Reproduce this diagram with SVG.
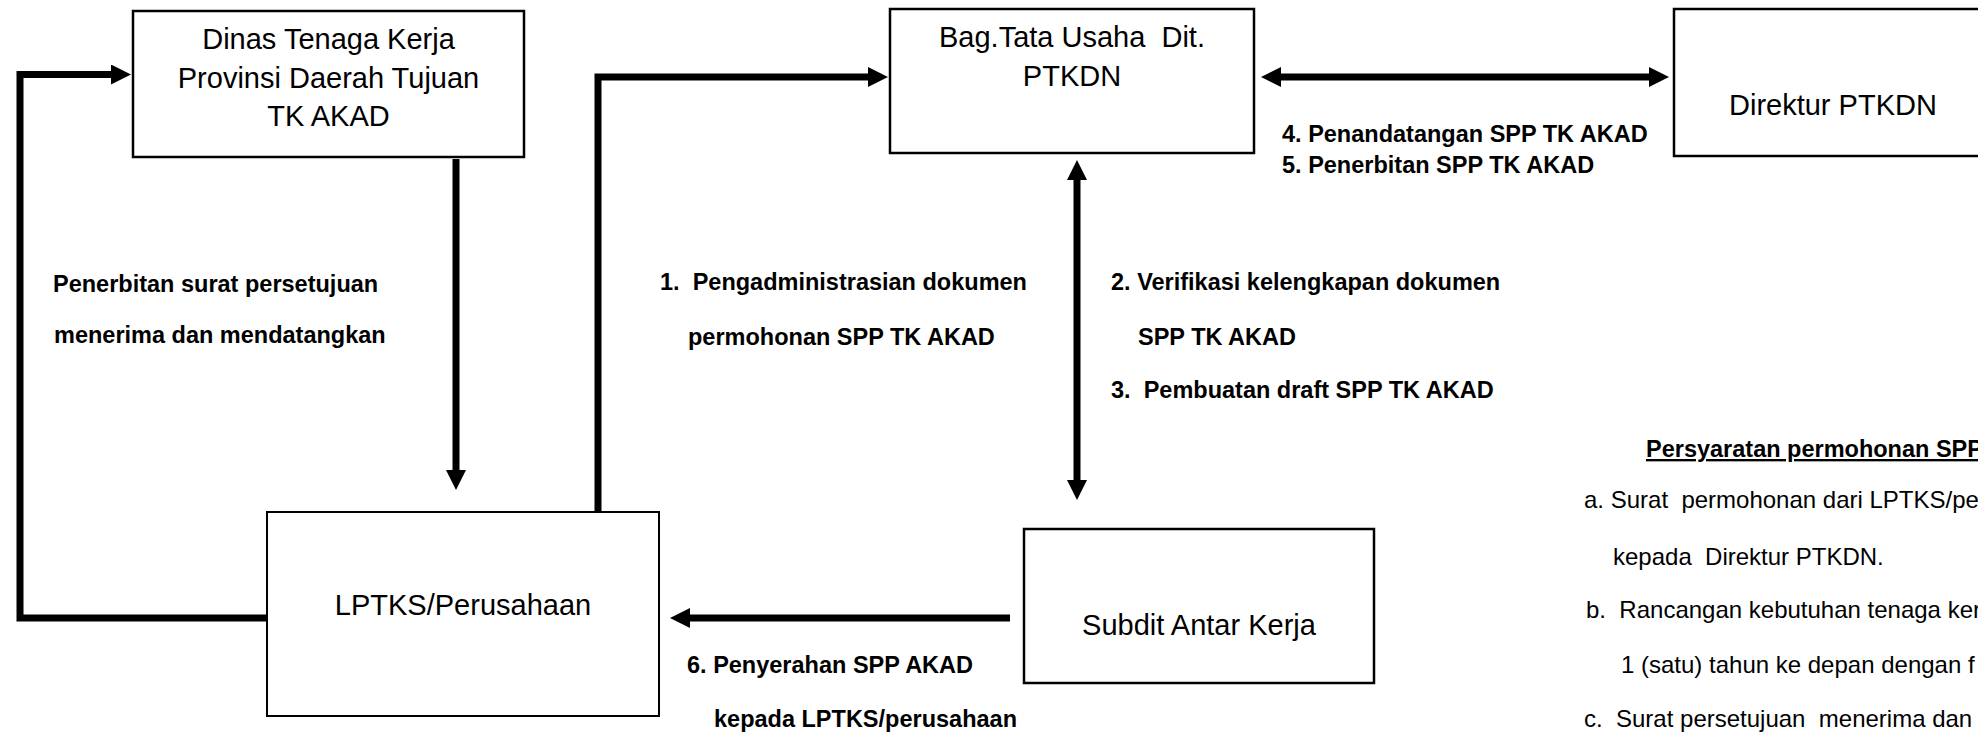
<svg xmlns="http://www.w3.org/2000/svg" width="1978" height="733" viewBox="0 0 1978 733" xml:space="preserve">
<style>
.box{fill:#fff;stroke:#000;stroke-width:2.5}
.thin{stroke-width:2}
.node{font-family:"Liberation Sans",Arial,sans-serif;font-size:29px;fill:#000;text-anchor:middle;white-space:pre}
.lbl{font-family:"Liberation Sans",Arial,sans-serif;font-size:23.5px;font-weight:bold;fill:#000;white-space:pre}
.req{font-family:"Liberation Sans",Arial,sans-serif;font-size:24px;fill:#000;white-space:pre}
.conn{fill:none;stroke:#000;stroke-width:7;stroke-linejoin:miter}
</style>
<defs>
<marker id="ah" viewBox="0 0 20 20" refX="2" refY="10" markerWidth="20" markerHeight="20" markerUnits="userSpaceOnUse" orient="auto-start-reverse"><path d="M0,0 L20,10 L0,20 z" fill="#000"/></marker>
</defs>
<rect width="1978" height="733" fill="#fff"/>
<g id="connectors">
<polyline class="conn" points="267,618 20,618 20,74.5 113,74.5" marker-end="url(#ah)"/>
<line class="conn" x1="456" y1="159" x2="456" y2="472" marker-end="url(#ah)"/>
<polyline class="conn" points="598,512 598,77 870,77" marker-end="url(#ah)"/>
<line class="conn" x1="1279" y1="77" x2="1651" y2="77" marker-start="url(#ah)" marker-end="url(#ah)"/>
<line class="conn" x1="1077" y1="178" x2="1077" y2="482" marker-start="url(#ah)" marker-end="url(#ah)"/>
<line class="conn" x1="1010" y1="618" x2="688" y2="618" marker-end="url(#ah)"/>
</g>
<g id="dinas">
<rect class="box" x="133" y="11" width="391" height="146"/>
<text class="node" x="328.5" y="49">Dinas Tenaga Kerja</text>
<text class="node" x="328.5" y="88">Provinsi Daerah Tujuan</text>
<text class="node" x="328.5" y="126">TK AKAD</text>
</g>
<g id="bag-tu">
<rect class="box" x="890" y="9" width="364" height="144"/>
<text class="node" x="1072" y="47">Bag.Tata Usaha  Dit.</text>
<text class="node" x="1072" y="86">PTKDN</text>
</g>
<g id="direktur">
<rect class="box" x="1674" y="9" width="330" height="147"/>
<text class="node" x="1729" y="115" style="text-anchor:start">Direktur PTKDN</text>
</g>
<g id="lptks">
<rect class="box thin" x="267" y="512" width="392" height="204"/>
<text class="node" x="463" y="615">LPTKS/Perusahaan</text>
</g>
<g id="subdit">
<rect class="box" x="1024" y="529" width="350" height="154"/>
<text class="node" x="1199" y="635">Subdit Antar Kerja</text>
</g>
<g id="labels">
<text class="lbl" x="53" y="292">Penerbitan surat persetujuan</text>
<text class="lbl" x="54" y="343">menerima dan mendatangkan</text>
<text class="lbl" x="660" y="290">1.  Pengadministrasian dokumen</text>
<text class="lbl" x="688" y="345">permohonan SPP TK AKAD</text>
<text class="lbl" x="1111" y="290">2. Verifikasi kelengkapan dokumen</text>
<text class="lbl" x="1138" y="345">SPP TK AKAD</text>
<text class="lbl" x="1111" y="398">3.  Pembuatan draft SPP TK AKAD</text>
<text class="lbl" x="1282" y="142">4. Penandatangan SPP TK AKAD</text>
<text class="lbl" x="1282" y="173">5. Penerbitan SPP TK AKAD</text>
<text class="lbl" x="687" y="673">6. Penyerahan SPP AKAD</text>
<text class="lbl" x="714" y="727">kepada LPTKS/perusahaan</text>
</g>
<g id="requirements">
<text class="lbl" x="1646" y="457" text-decoration="underline">Persyaratan permohonan SPP</text>
<text class="req" x="1584" y="508">a. Surat  permohonan dari LPTKS/pe</text>
<text class="req" x="1613" y="565">kepada  Direktur PTKDN.</text>
<text class="req" x="1586" y="618">b.  Rancangan kebutuhan tenaga ker</text>
<text class="req" x="1621" y="673">1 (satu) tahun ke depan dengan f</text>
<text class="req" x="1584" y="727">c.  Surat persetujuan  menerima dan</text>
</g>
</svg>
